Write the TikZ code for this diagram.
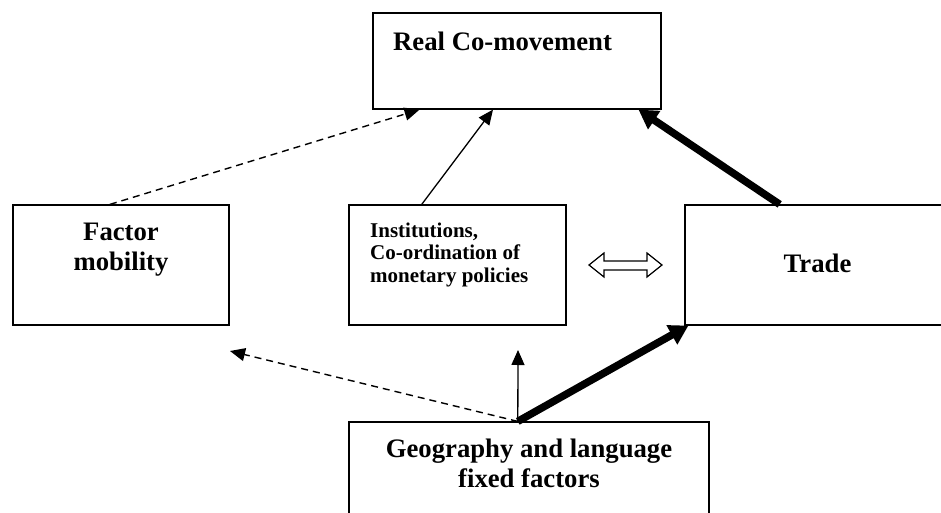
\documentclass[tikz,border=0pt]{standalone}
\usepackage{fontspec}
\setmainfont{Liberation Serif}
\usetikzlibrary{arrows.meta,calc}
\begin{document}
\begin{tikzpicture}[x=1pt,y=-1pt,
  box/.style={draw,line width=1.2pt,inner sep=0pt,rectangle},
  big/.style={font=\bfseries\fontsize{26.7}{29.5}\selectfont,inner sep=0pt},
  small/.style={font=\bfseries\fontsize{21}{22.5}\selectfont,inner sep=0pt},
  dasharrow/.style={line width=1.4pt,dash pattern=on 7pt off 5pt,-{Triangle[length=15pt,width=13pt]}},
  thinarrow/.style={line width=1.3pt,-{Triangle[length=15pt,width=13pt]}},
  heavyarrow/.style={line width=7.5pt,-{Triangle[length=19pt,width=21pt]}}]
\useasboundingbox (0,0) rectangle (941,513);
\clip (0,0) rectangle (941,513);
\fill[white] (0,0) rectangle (941,513);
% boxes
\node[box,minimum width=288pt,minimum height=96pt] (real) at (517,61) {};
\node[box,minimum width=216pt,minimum height=120pt] (factor) at (121,265) {};
\node[box,minimum width=217pt,minimum height=120pt] (inst) at (457.5,265) {};
\node[box,minimum width=265pt,minimum height=120pt] (trade) at (817.5,265) {};
\node[box,minimum width=360pt,minimum height=118pt] (geo) at (529,481) {};
% texts
\node[big,anchor=base west] (realtxt) at (393,51) {Real Co-movement};
\node[big,anchor=base,align=center] (factortxt) at (121,270) {Factor\\mobility};
\node[small,anchor=base west,align=left] (insttxt) at (370,282) {Institutions,\\Co-ordination of\\monetary policies};
\node[big,anchor=base] (tradetxt) at (817.5,272) {Trade};
\node[big,anchor=base,align=center] (geotxt) at (529,487) {Geography and language\\fixed factors};
% free ends
\coordinate (factorend) at (230,351);
\coordinate (instend) at (518,350);
% connectors
\draw[dasharrow] ($(factor.north west)!0.449!(factor.north east)$) -- ($(real.south west)!0.163!(real.south east)$);
\draw[thinarrow] ($(inst.north west)!0.336!(inst.north east)$) -- ($(real.south west)!0.417!(real.south east)$);
\draw[heavyarrow] ($(trade.north west)!0.358!(trade.north east)$) -- ($(real.south west)!0.92!(real.south east)$);
\draw[dasharrow] ($(geo.north west)!0.469!(geo.north east)$) -- (factorend);
\draw[thinarrow] ($(geo.north west)!0.469!(geo.north east)$) -- (instend);
\draw[heavyarrow] ($(geo.north west)!0.469!(geo.north east)$) -- ($(trade.south west)!0.015!(trade.south east)$);
% double hollow arrow between institutions and trade
\coordinate (bid) at (625.5,265);
\draw[line width=1.2pt,line join=miter] ($(bid)+(-36.5,0)$) -- ++(15,-12) -- ++(0,8) -- ++(43,0) -- ++(0,-8) -- ++(15,12) -- ++(-15,12) -- ++(0,-7) -- ++(-43,0) -- ++(0,7) -- cycle;
\end{tikzpicture}
\end{document}
